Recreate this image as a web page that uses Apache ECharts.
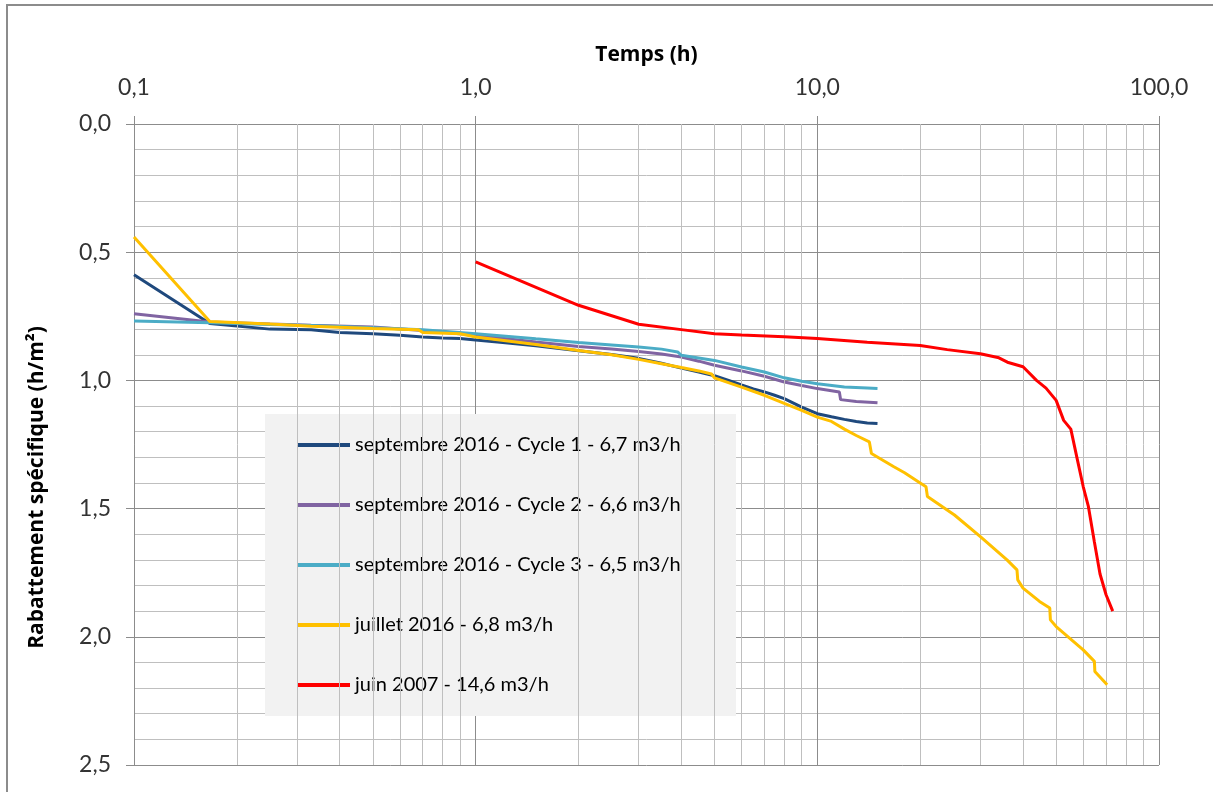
<!DOCTYPE html>
<html><head><meta charset="utf-8">
<script src="https://cdn.jsdelivr.net/npm/echarts@6/dist/echarts.min.js"></script>
<style>
html,body{margin:0;padding:0;overflow:hidden;background:#fff;}
#c{position:absolute;left:0;top:0;width:1213px;height:792px;}
#frame{position:absolute;left:6px;top:4px;width:1400px;height:1000px;border-top:2px solid #8c8c8c;border-left:2px solid #8c8c8c;pointer-events:none;}
</style></head><body>
<div id="c"></div><div id="frame"></div>
<script>
// ---- data (time in hours, specific drawdown in h/m²) ----
const seriesNames = [
  'septembre 2016 - Cycle 1 - 6,7 m3/h',
  'septembre 2016 - Cycle 2 - 6,6 m3/h',
  'septembre 2016 - Cycle 3 - 6,5 m3/h',
  'juillet 2016 - 6,8 m3/h',
  'juin 2007 - 14,6 m3/h'
];
const seriesColors = ['#1F497D', '#8064A2', '#4BACC6', '#FFC000', '#FF0000'];

const c1Time = [0.1, 0.1667, 0.25, 0.33, 0.4, 0.5, 0.6, 0.7, 0.8, 0.9, 1.0, 1.2, 1.5, 2.0, 2.5, 3.0, 3.5, 4.0, 4.5, 5.0, 5.5, 6.0, 6.5, 7.0, 7.5, 8.0, 9.0, 10.0, 11.0, 12.0, 13.0, 14.0, 15.0];
const c1Val  = [0.588, 0.778, 0.800, 0.802, 0.813, 0.818, 0.824, 0.831, 0.835, 0.837, 0.842, 0.852, 0.865, 0.884, 0.899, 0.914, 0.933, 0.952, 0.967, 0.982, 1.000, 1.018, 1.033, 1.045, 1.058, 1.071, 1.104, 1.130, 1.142, 1.152, 1.160, 1.166, 1.168];

const c2Time = [0.1, 0.1667, 0.25, 0.33, 0.5, 0.7, 1.0, 1.5, 2.0, 2.5, 3.0, 3.5, 4.0, 4.5, 5.0, 6.0, 7.0, 8.0, 9.0, 10.0, 11.0, 11.6, 11.7, 13.0, 15.0];
const c2Val  = [0.740, 0.772, 0.780, 0.785, 0.792, 0.805, 0.824, 0.850, 0.868, 0.878, 0.887, 0.897, 0.909, 0.925, 0.941, 0.963, 0.984, 1.006, 1.020, 1.032, 1.040, 1.045, 1.075, 1.082, 1.087];

const c3Time = [0.1, 0.1667, 0.25, 0.33, 0.5, 0.7, 1.0, 1.5, 2.0, 2.5, 3.0, 3.5, 3.9, 4.0, 5.0, 6.0, 7.0, 8.0, 9.0, 10.0, 12.0, 14.0, 15.0];
const c3Val  = [0.768, 0.775, 0.782, 0.786, 0.795, 0.802, 0.818, 0.838, 0.852, 0.862, 0.870, 0.878, 0.889, 0.902, 0.922, 0.948, 0.967, 0.990, 1.003, 1.013, 1.026, 1.030, 1.032];

const julTime = [0.1, 0.1667, 0.25, 0.33, 0.5, 0.68, 0.7, 0.9, 1.0, 1.5, 2.0, 2.5, 3.0, 3.5, 4.0, 4.5, 4.9, 5.0, 6.0, 7.0, 8.0, 9.0, 10.0, 11.0, 12.0, 13.0, 14.2, 14.4, 16.7, 18.0, 20.0, 20.8, 21.0, 25.2, 30.0, 35.9, 38.4, 38.6, 40.0, 44.7, 47.9, 48.1, 50.0, 60.0, 64.7, 64.9, 70.5];
const julVal  = [0.441, 0.770, 0.780, 0.789, 0.798, 0.802, 0.813, 0.818, 0.831, 0.860, 0.883, 0.900, 0.918, 0.935, 0.950, 0.963, 0.975, 0.990, 1.026, 1.058, 1.090, 1.117, 1.143, 1.160, 1.190, 1.215, 1.240, 1.285, 1.336, 1.360, 1.400, 1.415, 1.453, 1.525, 1.609, 1.700, 1.739, 1.778, 1.810, 1.862, 1.888, 1.934, 1.960, 2.051, 2.096, 2.135, 2.187];

const junTime = [1.0, 2.0, 3.0, 4.0, 5.0, 6.0, 8.0, 10.0, 14.0, 20.0, 24.0, 30.0, 34.0, 36.0, 40.0, 43.8, 46.7, 50.0, 52.6, 55.2, 57.6, 60.0, 62.1, 64.7, 67.2, 70.0, 73.2];
const junVal  = [0.538, 0.707, 0.781, 0.802, 0.818, 0.823, 0.830, 0.837, 0.851, 0.864, 0.880, 0.896, 0.912, 0.929, 0.947, 1.000, 1.030, 1.078, 1.156, 1.190, 1.305, 1.414, 1.490, 1.630, 1.755, 1.836, 1.900];

const seriesTimes = [c1Time, c2Time, c3Time, julTime, junTime];
const seriesVals  = [c1Val, c2Val, c3Val, julVal, junVal];

const xDecades = [0.1, 1, 10];
const minorMultipliers = [2, 3, 4, 5, 6, 7, 8, 9];

// ---- build ----
const minorX = [];
xDecades.forEach(d => minorMultipliers.forEach(k => minorX.push(Number((k * d).toPrecision(3)))));
const fmt = v => Number(v).toFixed(1).replace('.', ',');
const FONT = 'Lato, "Liberation Sans", sans-serif';
const BOLDFONT = '"Open Sans", Lato, sans-serif';

const series = seriesNames.map((name, i) => ({
  name: name,
  type: 'line',
  data: seriesTimes[i].map((t, j) => [t, seriesVals[i][j]]),
  symbol: 'none',
  smooth: false,
  lineStyle: { color: seriesColors[i], width: 3 },
  itemStyle: { color: seriesColors[i] },
  z: 3 + i
}));
series.unshift({
  name: '_minor',
  type: 'line',
  data: [],
  z: 1,
  silent: true,
  markLine: {
    silent: true,
    symbol: ['none', 'none'],
    label: { show: false },
    animation: false,
    lineStyle: { color: '#bfbfbf', type: 'solid', width: 1 },
    emphasis: { disabled: true },
    data: minorX.map(v => ({ xAxis: v }))
  }
});

const chart = echarts.init(document.getElementById('c'), null, { renderer: 'canvas' });
chart.setOption({
  animation: false,
  backgroundColor: '#ffffff',
  grid: { left: 134, right: 54, top: 124, bottom: 27, containLabel: false, outerBoundsMode: 'none' },
  legend: {
    data: seriesNames,
    orient: 'vertical',
    left: 265,
    top: 414,
    padding: [21, 40, 21, 33],
    backgroundColor: '#f2f2f2',
    icon: 'rect',
    itemWidth: 52,
    itemHeight: 4,
    itemGap: 40,
    selectedMode: false,
    textStyle: { fontFamily: FONT, fontSize: 20, color: '#000', lineHeight: 20, width: 341 }
  },
  xAxis: {
    type: 'log',
    logBase: 10,
    min: 0.1,
    max: 100,
    position: 'top',
    name: 'Temps (h)',
    nameLocation: 'middle',
    nameGap: 58,
    nameTextStyle: { fontFamily: BOLDFONT, fontSize: 21, fontWeight: 'bold', color: '#000' },
    axisLine: { show: true, lineStyle: { color: '#8c8c8c', width: 1 } },
    axisTick: { show: true, length: 8, lineStyle: { color: '#8c8c8c' } },
    axisLabel: { formatter: fmt, margin: 25, fontFamily: FONT, fontSize: 23, color: '#333' },
    splitLine: { show: true, lineStyle: { color: '#8c8c8c', width: 1 } },
    minorTick: { show: false },
    minorSplitLine: { show: false }
  },
  yAxis: {
    type: 'value',
    inverse: true,
    min: 0,
    max: 2.5,
    interval: 0.5,
    name: 'Rabattement spécifique (h/m²)',
    nameLocation: 'middle',
    nameRotate: 90,
    nameGap: 86,
    nameTextStyle: { fontFamily: BOLDFONT, fontSize: 21, fontWeight: 'bold', color: '#000', padding: [0, 86, 0, 0] },
    axisLine: { show: true, lineStyle: { color: '#8c8c8c', width: 1 } },
    axisTick: { show: true, length: 8, lineStyle: { color: '#8c8c8c' } },
    axisLabel: { formatter: fmt, margin: 23, fontFamily: FONT, fontSize: 23, color: '#333' },
    splitLine: { show: true, lineStyle: { color: '#8c8c8c', width: 1 } },
    minorTick: { show: false, splitNumber: 5 },
    minorSplitLine: { show: true, lineStyle: { color: '#bfbfbf', width: 1 } }
  },
  series: series
});
</script>
</body></html>
